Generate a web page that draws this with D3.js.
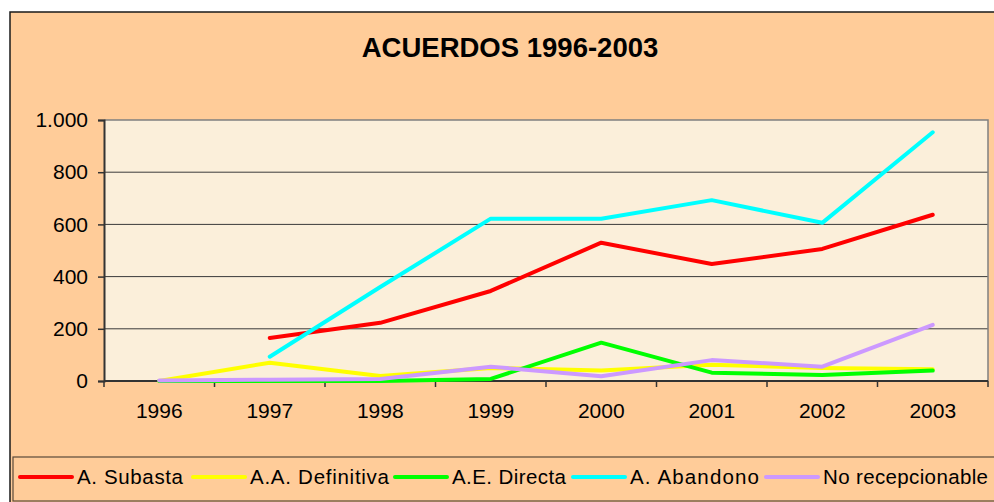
<!DOCTYPE html>
<html>
<head>
<meta charset="utf-8">
<script src="https://cdn.jsdelivr.net/npm/d3@7"></script>
<style>
  body { margin: 0; background: #fff; }
  svg { display: block; font-family: "Liberation Sans", Arial, sans-serif; }
</style>
</head>
<body>
<div id="chart"></div>
<script>
// Data
const years = ["1996", "1997", "1998", "1999", "2000", "2001", "2002", "2003"];
const subasta = [null, 165, 223, 345, 530, 448, 506, 637];
const definitiva = [0, 70, 19, 50, 40, 62, 50, 45];
const directa = [0, 0, 0, 8, 147, 32, 23, 40];
const abandono = [null, 93, 360, 622, 622, 693, 606, 953];
const noRecep = [2, 5, 8, 55, 18, 80, 55, 215];
const yTicks = [0, 200, 400, 600, 800, 1000];

const series = [
    {name: "A. Subasta", values: subasta, color: "#ff0000"},
    {name: "A.A. Definitiva", values: definitiva, color: "#ffff00"},
    {name: "A.E. Directa", values: directa, color: "#00ff00"},
    {name: "A. Abandono", values: abandono, color: "#00ffff"},
    {name: "No recepcionable", values: noRecep, color: "#cc99ff"}
];

const width = 994, height = 502;
const plot = {left: 104, top: 120, right: 988, bottom: 381};

const svg = d3.select("#chart").append("svg")
    .attr("width", width)
    .attr("height", height);

// Chart area
svg.append("rect")
    .attr("x", 10).attr("y", 12)
    .attr("width", width + 10).attr("height", height)
    .attr("fill", "#ffcc99")
    .attr("stroke", "#1a1a1a")
    .attr("stroke-width", 1.5);

// Title
svg.append("text")
    .attr("x", 510)
    .attr("y", 57)
    .attr("text-anchor", "middle")
    .style("font-size", "27.5px")
    .style("font-weight", "bold")
    .text("ACUERDOS 1996-2003");

// Plot background
svg.append("rect")
    .attr("x", plot.left).attr("y", plot.top)
    .attr("width", plot.right - plot.left)
    .attr("height", plot.bottom - plot.top)
    .attr("fill", "#fbefda");

const x = d3.scaleBand()
    .domain(years)
    .range([plot.left, plot.right]);

const y = d3.scaleLinear()
    .domain([0, 1000])
    .range([plot.bottom, plot.top]);

const fmt = d3.formatLocale({decimal: ",", thousands: ".", grouping: [3], currency: ["", "€"]}).format(",");

// Gridlines
svg.append("g")
    .selectAll("line")
    .data(yTicks.filter(d => d > 0 && d < 1000))
    .enter().append("line")
    .attr("x1", plot.left).attr("x2", plot.right)
    .attr("y1", d => y(d)).attr("y2", d => y(d))
    .attr("stroke", "#3a3a3a")
    .attr("stroke-width", 1);

// Top and right border of plot
svg.append("path")
    .attr("d", `M${plot.left},${plot.top}H${plot.right}V${plot.bottom}`)
    .attr("fill", "none")
    .attr("stroke", "#808080")
    .attr("stroke-width", 1.5);

// Y axis
const yAxis = svg.append("g")
    .attr("transform", `translate(${plot.left},0)`)
    .call(d3.axisLeft(y).tickValues(yTicks).tickFormat(fmt).tickSize(6).tickPadding(10));
yAxis.select(".domain").attr("stroke", "#333").attr("stroke-width", 2);
yAxis.selectAll(".tick line").attr("stroke", "#333").attr("stroke-width", 1.5);
yAxis.selectAll("text")
    .attr("fill", "#000")
    .style("font-size", "21px")
    .style("font-family", "'Liberation Sans', Arial, sans-serif");

// X axis: ticks sit between categories
const xAxis = svg.append("g")
    .attr("transform", `translate(0,${plot.bottom})`);
xAxis.append("line")
    .attr("x1", plot.left).attr("x2", plot.right)
    .attr("stroke", "#333").attr("stroke-width", 2);
xAxis.selectAll(".xtick")
    .data(years.concat(["end"]))
    .enter().append("line")
    .attr("class", "xtick")
    .attr("x1", (d, i) => plot.left + i * x.step())
    .attr("x2", (d, i) => plot.left + i * x.step())
    .attr("y1", 0).attr("y2", 6)
    .attr("stroke", "#333").attr("stroke-width", 1.5);
xAxis.selectAll(".xlabel")
    .data(years)
    .enter().append("text")
    .attr("class", "xlabel")
    .attr("x", d => x(d) + x.bandwidth() / 2)
    .attr("y", 37)
    .attr("text-anchor", "middle")
    .style("font-size", "21px")
    .text(d => d);

// Lines
const line = d3.line()
    .defined(d => d != null)
    .x((d, i) => x(years[i]) + x.bandwidth() / 2)
    .y(d => y(d));

svg.append("g")
    .selectAll("path")
    .data(series)
    .enter().append("path")
    .attr("d", d => line(d.values))
    .attr("fill", "none")
    .attr("stroke", d => d.color)
    .attr("stroke-width", 4)
    .attr("stroke-linejoin", "round")
    .attr("stroke-linecap", "round");

// Legend
svg.append("rect")
    .attr("x", 13).attr("y", 457)
    .attr("width", width).attr("height", 44)
    .attr("fill", "none")
    .attr("stroke", "#5a4a3a")
    .attr("stroke-width", 1.2);

const legendX = [20, 193, 395, 573, 766];
const legendW = [106, 139, 114, 129, 165];
const legend = svg.append("g")
    .selectAll("g")
    .data(series)
    .enter().append("g")
    .attr("transform", (d, i) => `translate(${legendX[i]},477)`);

legend.append("line")
    .attr("x1", 0).attr("x2", 52)
    .attr("stroke", d => d.color)
    .attr("stroke-width", 4)
    .attr("stroke-linecap", "round");

legend.append("text")
    .attr("x", 57)
    .attr("y", 7)
    .attr("textLength", (d, i) => legendW[i])
    .attr("lengthAdjust", "spacing")
    .style("font-size", "20.5px")
    .text(d => d.name);
</script>
</body>
</html>
